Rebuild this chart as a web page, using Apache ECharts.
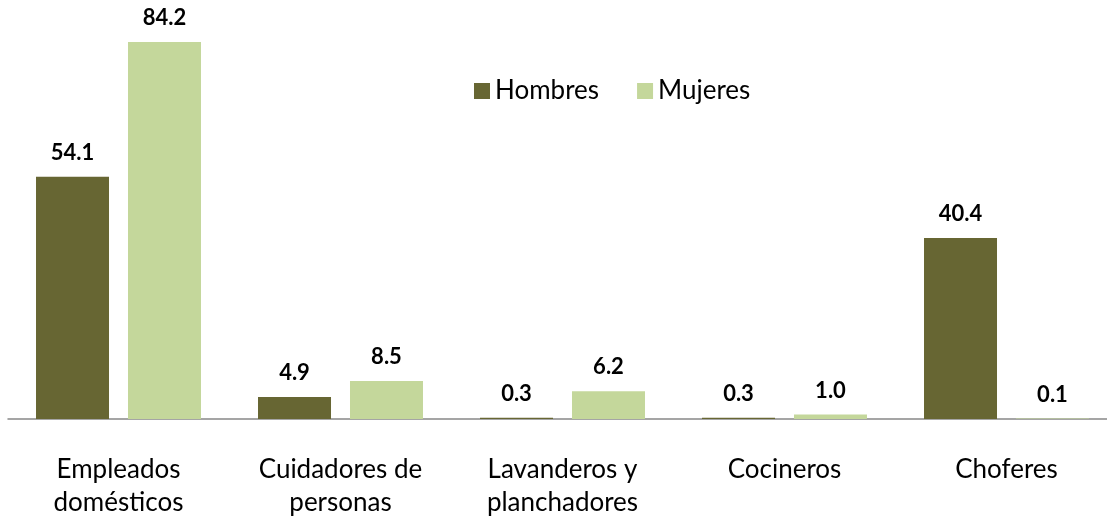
<!DOCTYPE html>
<html>
<head>
<meta charset="utf-8">
<script src="https://cdn.jsdelivr.net/npm/echarts@6/dist/echarts.min.js"></script>
<style>
html, body { margin: 0; padding: 0; background: #fff; }
#chart { width: 1107px; height: 520px; }
</style>
</head>
<body>
<div id="chart"></div>
<script>
var categories = ['Empleados\ndomésticos', 'Cuidadores de\npersonas', 'Lavanderos y\nplanchadores', 'Cocineros', 'Choferes'];
var hombres = [54.1, 4.9, 0.3, 0.3, 40.4];
var mujeres = [84.2, 8.5, 6.2, 1.0, 0.1];

var chart = echarts.init(document.getElementById('chart'));
var labelStyle = {
  show: true,
  position: 'top',
  distance: 13,
  fontFamily: 'Lato',
  fontWeight: 'bold',
  fontSize: 22,
  color: '#000',
  formatter: function (p) { return p.value.toFixed(1); }
};
chart.setOption({
  animation: false,
  legend: {
    left: 469,
    top: 73,
    itemWidth: 16,
    itemHeight: 16,
    itemGap: 38,
    icon: 'rect',
    textStyle: { fontFamily: 'Lato', fontSize: 26, color: '#000' },
    data: ['Hombres', 'Mujeres']
  },
  // grid 0 holds the bars (ticks at category centres), grid 1 only draws the full-width baseline
  grid: [
    { left: 118.5, width: 888, top: 16, bottom: 101 },
    { left: 8, right: 0, top: 16, bottom: 101 }
  ],
  xAxis: [{
    type: 'category',
    gridIndex: 0,
    data: categories,
    boundaryGap: false,
    axisLine: { show: false },
    axisTick: { show: false },
    axisLabel: {
      interval: 0,
      margin: 34,
      fontFamily: 'Lato',
      fontSize: 26,
      lineHeight: 33,
      color: '#000'
    }
  }, {
    type: 'value',
    gridIndex: 1,
    min: 0,
    max: 1,
    axisLine: { show: true, lineStyle: { color: '#888', width: 1.5 } },
    axisTick: { show: false },
    axisLabel: { show: false },
    splitLine: { show: false }
  }],
  yAxis: [{
    type: 'value',
    gridIndex: 0,
    min: 0,
    max: 90,
    show: false,
    splitLine: { show: false }
  }, {
    type: 'value',
    gridIndex: 1,
    min: 0,
    max: 1,
    show: false,
    splitLine: { show: false }
  }],
  series: [{
    name: 'Hombres',
    type: 'bar',
    data: hombres,
    barWidth: 73,
    barGap: '26%',
    itemStyle: { color: '#676633' },
    label: labelStyle
  }, {
    name: 'Mujeres',
    type: 'bar',
    data: mujeres,
    barWidth: 73,
    barGap: '26%',
    itemStyle: { color: '#c4d79b' },
    label: labelStyle
  }]
});
</script>
</body>
</html>
